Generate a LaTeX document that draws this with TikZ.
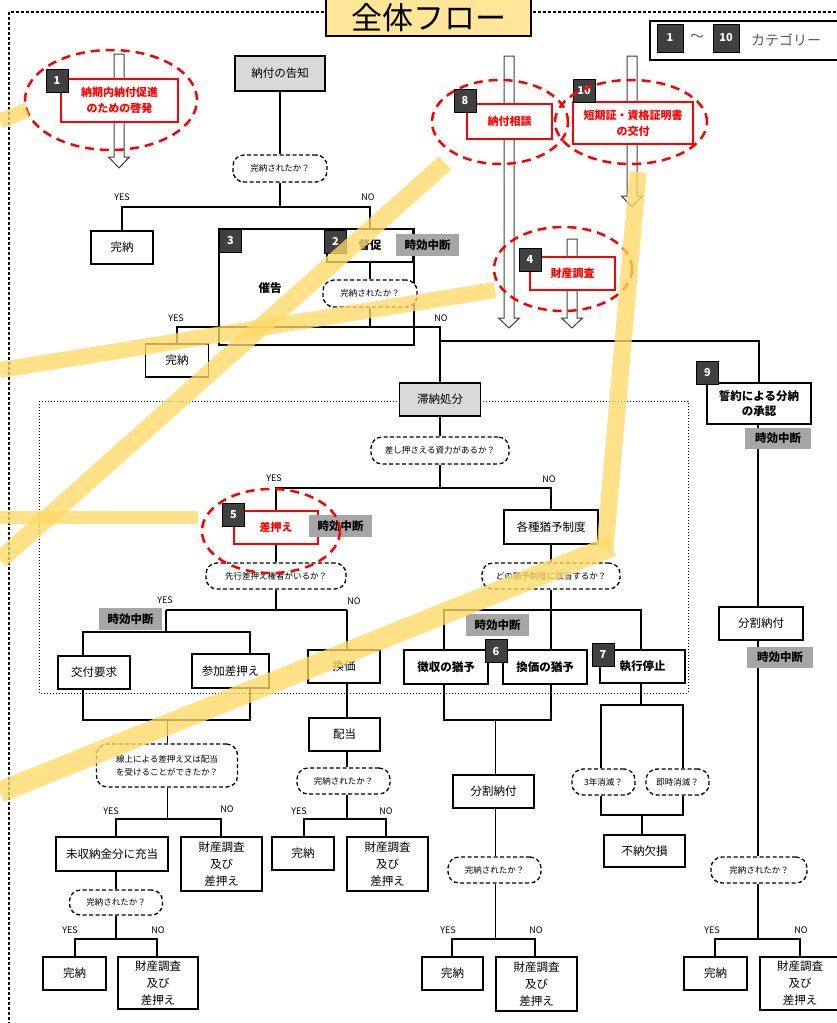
\documentclass[tikz,border=0pt]{standalone}
\usepackage{fontspec}
\setmainfont{Noto Sans CJK JP}
\definecolor{bgray}{HTML}{404040}
\definecolor{jgray}{HTML}{A6A6A6}
\definecolor{lgray}{HTML}{D9D9D9}
\definecolor{hly}{HTML}{FFD966}
\definecolor{titley}{HTML}{FFE699}
\definecolor{leggray}{HTML}{595959}
\newcommand\hollowarrow[4]{\draw[harrowst] (#1-5,#2) -- (#1+5,#2) -- (#1+5,#3) -- (#1+10.5,#3) -- (#1,#4) -- (#1-10.5,#3) -- (#1-5,#3) -- cycle;}
\begin{document}
\begin{tikzpicture}[x=1pt,y=-1pt,
  box/.style={draw, line width=1.5pt, fill=white, inner sep=0pt, align=center, font=\fontsize{11.5}{17}\selectfont},
  bbox/.style={box, font=\bfseries\fontsize{11.5}{15}\selectfont},
  gbox/.style={box, fill=lgray},
  qbox/.style={draw, dash pattern=on 4pt off 2.5pt, line width=1.3pt, rounded corners=11pt, fill=white, inner sep=0pt, align=center, font=\fontsize{8.5}{12.5}\selectfont},
  jikou/.style={fill=jgray, inner sep=0pt, minimum width=63pt, minimum height=22pt, font=\bfseries\fontsize{11.5}{14}\selectfont},
  badge/.style={fill=bgray, draw=black, line width=0.8pt, text=white, minimum width=22pt, minimum height=23pt, inner sep=0pt, font=\bfseries\fontsize{11}{13}\selectfont},
  rbox/.style={draw=red, line width=1.5pt, fill=white, text=red, inner sep=0pt, align=center, font=\bfseries\fontsize{11}{16}\selectfont},
  yn/.style={inner sep=0pt, font=\fontsize{9}{10}\selectfont},
  conn/.style={line width=1.6pt},
  thinconn/.style={line width=1pt},
  harrowst/.style={draw=bgray, line width=1pt, fill=white},
  rell/.style={draw=red, line width=2.5pt, dash pattern=on 9pt off 6pt},
  hl/.style={draw=hly, opacity=0.78}
]
\useasboundingbox (0,0) rectangle (837,1023);
\clip (0,0) rectangle (837,1023);

% frames
\draw[line width=1.2pt, dash pattern=on 3pt off 2pt] (9,1030) -- (9,12) -- (330,12);
\draw[line width=1.2pt, dash pattern=on 3pt off 2pt] (528,12) -- (840,12);
\draw[line width=1pt, dotted] (39,401) rectangle (688,693);

\node[box, fill=titley, minimum width=205pt, minimum height=46pt] (title) at (428.5,13) {};
\node[inner sep=0pt, font=\fontsize{31}{33}\selectfont] (titletext) at (428.5,17.5) {全体フロー};
\node[draw, line width=1.2pt, minimum width=200pt, minimum height=39pt, inner sep=0pt] (legend) at (750,40.5) {};
\node[badge, minimum width=26pt, minimum height=28pt] (lb1) at (670,38) {1};
\node[inner sep=0pt, text=leggray, font=\fontsize{14}{16}\selectfont] (tilde) at (697,38) {〜};
\node[badge, minimum width=26pt, minimum height=28pt] (lb10) at (726,38) {10};
\node[inner sep=0pt, text=leggray, font=\fontsize{14}{16}\selectfont] (legtext) at (786,40) {カテゴリー};

% main flow nodes
\node[gbox, minimum width=90pt, minimum height=35pt] (n0) at (280,73.5) {納付の告知};
\node[qbox, minimum width=94pt, minimum height=27pt] (q0) at (280,168.5) {完納されたか？};
\node[box, minimum width=62pt, minimum height=33pt] (kan1) at (122,247.5) {完納};
\node[box, minimum width=195pt, minimum height=116pt] (n3) at (316.5,287) {};
\node[inner sep=0pt, font=\bfseries\fontsize{11.5}{14}\selectfont] (saikoku) at (270,288) {催告};
\node[bbox, minimum width=86pt, minimum height=33pt] (tok) at (370,245.5) {督促};
\node[qbox, minimum width=94pt, minimum height=27pt] (q1) at (370,293.5) {完納されたか？};
\node[box, minimum width=63pt, minimum height=33pt] (kan2) at (177,360.5) {完納};
\node[gbox, minimum width=81pt, minimum height=33pt] (taino) at (440,399.5) {滞納処分};
\node[qbox, minimum width=138pt, minimum height=27pt] (q2) at (440,450.5) {差し押さえる資力があるか？};
\node[rbox, minimum width=84pt, minimum height=33pt] (sashi) at (276,527.5) {差押え};
\node[qbox, minimum width=140pt, minimum height=26pt] (q3) at (276,576) {先行差押え権者がいるか？};
\node[box, minimum width=72pt, minimum height=33pt] (kofu) at (94,672.5) {交付要求};
\node[box, minimum width=77pt, minimum height=34pt] (sanka) at (230.5,671) {参加差押え};
\node[box, minimum width=72pt, minimum height=33pt] (kanka) at (344,666.5) {換価};
\node[qbox, minimum width=141pt, minimum height=43pt] (q4) at (167,765.5) {線上による差押え又は配当\\を受けることができたか？};
\node[box, minimum width=112pt, minimum height=34pt] (mishu) at (112,854) {未収納金分に充当};
\node[box, minimum width=81pt, minimum height=54pt] (zai1) at (221.5,864) {財産調査\\及び\\差押え};
\node[qbox, minimum width=93pt, minimum height=25pt] (q5) at (116,902.5) {完納されたか？};
\node[box, minimum width=63pt, minimum height=33pt] (kan3) at (74.5,973.5) {完納};
\node[box, minimum width=80pt, minimum height=52pt] (zai2) at (158,983) {財産調査\\及び\\差押え};
\node[box, minimum width=71pt, minimum height=33pt] (haito) at (344.5,734.5) {配当};
\node[qbox, minimum width=93pt, minimum height=26pt] (q6) at (343.5,781) {完納されたか？};
\node[box, minimum width=62pt, minimum height=33pt] (kan4) at (303,853.5) {完納};
\node[box, minimum width=81pt, minimum height=54pt] (zai3) at (387.5,864) {財産調査\\及び\\差押え};
\node[box, minimum width=94pt, minimum height=34pt] (kakushu) at (551,527) {各種猶予制度};
\node[qbox, minimum width=138pt, minimum height=26pt] (q7) at (551,576) {どの猶予制度に該当するか？};
\node[bbox, minimum width=84pt, minimum height=34pt] (choshu) at (446,667) {徴収の猶予};
\node[bbox, minimum width=84pt, minimum height=34pt] (kankayuyo) at (545,667) {換価の猶予};
\node[bbox, minimum width=85pt, minimum height=33pt] (shikko) at (642.5,666.5) {執行停止};
\node[box, minimum width=81pt, minimum height=33pt] (bunkatsu1) at (493.5,791.5) {分割納付};
\node[qbox, minimum width=93pt, minimum height=26pt] (q8) at (494.5,870) {完納されたか？};
\node[box, minimum width=61pt, minimum height=33pt] (kan5) at (452.5,973.5) {完納};
\node[box, minimum width=81pt, minimum height=54pt] (zai4) at (536.5,984) {財産調査\\及び\\差押え};
\node[qbox, minimum width=63pt, minimum height=26pt] (q3y) at (603.5,782) {3年消滅？};
\node[qbox, minimum width=63pt, minimum height=26pt] (qsoku) at (677.5,782) {即時消滅？};
\node[box, minimum width=81pt, minimum height=32pt] (funo) at (644.5,851) {不納欠損};
\node[bbox, minimum width=104pt, minimum height=41pt] (seiyaku) at (759,403.5) {誓約による分納\\の承認};
\node[box, minimum width=84pt, minimum height=33pt] (bunkatsu2) at (761,623.5) {分割納付};
\node[qbox, minimum width=96pt, minimum height=26pt] (q9) at (759,870) {完納されたか？};
\node[box, minimum width=63pt, minimum height=33pt] (kan6) at (715.5,973.5) {完納};
\node[box, minimum width=80pt, minimum height=53pt] (zai5) at (800,983.5) {財産調査\\及び\\差押え};

% connectors
\coordinate (j0) at (280,207);
\draw[conn] (n0) -- (q0);
\draw[conn] (q0) -- (j0);
\draw[conn] (kan1.north) |- (j0) -| (tok.north);
\draw[conn] (tok) -- (q1);
\coordinate (j1) at (370,327);
\draw[conn] (q1) -- (j1);
\draw[conn] (kan2.north) |- (j1) -| (taino.north);
\coordinate (j2) at (440,341);
\draw[conn] (j2) -| (seiyaku.north);
\draw[conn] (taino) -- (q2);
\coordinate (j3) at (440,488);
\draw[conn] (q2) -- (j3);
\draw[conn] (sashi.north) |- (j3) -| (kakushu.north);
\draw[conn] (sashi) -- (q3);
\coordinate (j4) at (276,610);
\draw[conn] (q3) -- (j4);
\coordinate (b1) at (166,610);
\coordinate (b2) at (347,610);
\draw[conn] (b1) -- (b2);
\draw[conn] (b2) -- (b2 |- kanka.north);
\coordinate (b3) at (166,632);
\draw[conn] (b1) -- (b3);
\coordinate (b4) at (83,632);
\coordinate (b5) at (250,632);
\draw[conn] (b4 |- kofu.north) -- (b4) -- (b5) -- (b5 |- sanka.north);
\coordinate (b6) at (83,720);
\coordinate (b7) at (250,720);
\draw[conn] (b4 |- kofu.south) -- (b6) -- (b7) -- (b7 |- sanka.south);
\coordinate (b8) at (167,720);
\draw[thinconn] (b8) -- (b8 |- q4.north);
\coordinate (b9) at (167,819);
\draw[thinconn] (q4) -- (b9);
\coordinate (b10) at (116,819);
\coordinate (b11) at (221,819);
\draw[conn] (b10 |- mishu.north) -- (b10) -- (b11) -- (b11 |- zai1.north);
\draw[conn] (b10 |- mishu.south) -- (b10 |- q5.north);
\coordinate (b12) at (116,939);
\draw[conn] (q5) -- (b12);
\coordinate (b13) at (75,939);
\coordinate (b14) at (157,939);
\draw[conn] (b13 |- kan3.north) -- (b13) -- (b14) -- (b14 |- zai2.north);
\draw[conn] (b2 |- kanka.south) -- (b2 |- haito.north);
\draw[conn] (b2 |- haito.south) -- (b2 |- q6.north);
\coordinate (c1) at (347,819);
\draw[conn] (b2 |- q6.south) -- (c1);
\coordinate (c2) at (304,819);
\coordinate (c3) at (386,819);
\draw[conn] (c2 |- kan4.north) -- (c2) -- (c3) -- (c3 |- zai3.north);
\draw[conn] (kakushu) -- (q7);
\coordinate (d0) at (551,610);
\draw[conn] (q7) -- (d0);
\coordinate (d1) at (444,610);
\coordinate (d2) at (641,610);
\draw[conn] (d1 |- choshu.north) -- (d1) -- (d2) -- (d2 |- shikko.north);
\draw[conn] (d0) -- (d0 |- kankayuyo.north);
\coordinate (d3) at (444,720);
\coordinate (d4) at (551,720);
\draw[conn] (d1 |- choshu.south) -- (d3) -- (d4) -- (d0 |- kankayuyo.south);
\coordinate (d5) at (495,720);
\draw[thinconn] (d5) -- (d5 |- bunkatsu1.north);
\draw[thinconn] (d5 |- bunkatsu1.south) -- (d5 |- q8.north);
\coordinate (d6) at (495,939);
\draw[thinconn] (d5 |- q8.south) -- (d6);
\coordinate (d7) at (452,939);
\coordinate (d8) at (535,939);
\draw[conn] (d7 |- kan5.north) -- (d7) -- (d8) -- (d8 |- zai4.north);
\coordinate (e0) at (641,705);
\draw[conn] (d2 |- shikko.south) -- (e0);
\coordinate (e1) at (601,705);
\coordinate (e2) at (683,705);
\draw[conn] (e1 |- q3y.north) -- (e1) -- (e2) -- (e2 |- qsoku.north);
\coordinate (e3) at (601,815);
\coordinate (e4) at (683,815);
\coordinate (e5) at (642,815);
\draw[conn] (e1 |- q3y.south) -- (e3) -- (e4) -- (e2 |- qsoku.south);
\draw[conn] (e5) -- (e5 |- funo.north);
\coordinate (f1) at (758,939);
\draw[conn] (f1 |- seiyaku.south) -- (f1 |- bunkatsu2.north);
\draw[conn] (f1 |- bunkatsu2.south) -- (f1 |- q9.north);
\draw[conn] (f1 |- q9.south) -- (f1);
\coordinate (f2) at (715,939);
\coordinate (f3) at (800,939);
\draw[conn] (f2 |- kan6.north) -- (f2) -- (f3) -- (f3 |- zai5.north);

% YES / NO
\node[yn] (y1) at (122,197) {YES}; \node[yn] (no1) at (368,197) {NO};
\node[yn] (y2) at (176,318) {YES}; \node[yn] (no2) at (441,318) {NO};
\node[yn] (y3) at (274,478) {YES}; \node[yn] (no3) at (549,479) {NO};
\node[yn] (y4) at (165,600) {YES}; \node[yn] (no4) at (354,601) {NO};
\node[yn] (y5) at (111,811) {YES}; \node[yn] (no5) at (227,809) {NO};
\node[yn] (y6) at (70,930) {YES}; \node[yn] (no6) at (158,930) {NO};
\node[yn] (y7) at (299,811) {YES}; \node[yn] (no7) at (386,811) {NO};
\node[yn] (y8) at (448,930) {YES}; \node[yn] (no8) at (536,930) {NO};
\node[yn] (y9) at (712,930) {YES}; \node[yn] (no9) at (801,930) {NO};

% 時効中断 labels
\node[jikou] (t1) at (427.5,245) {時効中断};
\node[jikou] (t2) at (340.5,526) {時効中断};
\node[jikou] (t3) at (130.5,619) {時効中断};
\node[jikou] (t4) at (497.5,625) {時効中断};
\node[jikou, minimum width=66pt, minimum height=21pt] (t5) at (778,438.5) {時効中断};
\node[jikou, minimum width=66pt, minimum height=21pt] (t6) at (780,657.5) {時効中断};

% hollow arrows
\hollowarrow{119}{54}{157}{168}
\hollowarrow{509}{56}{318}{328}
\hollowarrow{632}{56}{196}{207}
\hollowarrow{572}{239}{318}{328}

% red boxes
\node[rbox, minimum width=117pt, minimum height=43pt] (r1) at (119.5,100.5) {納期内納付促進\\のための啓発};
\node[rbox, minimum width=85pt, minimum height=35pt] (r8) at (509.5,121.5) {納付相談};
\node[rbox, minimum width=120pt, minimum height=42pt] (r10) at (633,123) {短期証・資格証明書\\の交付};
\node[rbox, minimum width=85pt, minimum height=33pt] (r4) at (572.5,273.5) {財産調査};

% badges
\node[badge] (bd1) at (57,80.5) {1};
\node[badge] (bd2) at (335.5,241.5) {2};
\node[badge] (bd3) at (230.5,240.5) {3};
\node[badge] (bd4) at (530,259.5) {4};
\node[badge] (bd5) at (233.5,514.5) {5};
\node[badge] (bd6) at (496,651) {6};
\node[badge] (bd7) at (603,654.5) {7};
\node[badge] (bd8) at (465,101) {8};
\node[badge] (bd9) at (707.5,373) {9};
\node[badge] (bd10) at (584,91) {10};

% red dashed ellipses
\draw[rell] (111,100) ellipse [x radius=86pt, y radius=50pt];
\draw[rell] (500,122) ellipse [x radius=68pt, y radius=42pt];
\draw[rell] (631,122) ellipse [x radius=76pt, y radius=42pt];
\draw[rell] (563,269) ellipse [x radius=69pt, y radius=42pt];
\draw[rell] (271,531) ellipse [x radius=69pt, y radius=42pt];

% yellow highlighter strokes
\draw[hl, line width=15pt] (0,121) -- (27,110);
\draw[hl, line width=18pt] (445,163) -- (0,560);
\draw[hl, line width=16pt] (0,370) -- (495,290);
\draw[hl, line width=13pt] (0,517) -- (198,517);
\draw[hl, line width=17pt] (638,172) -- (605,548);
\draw[hl, line width=21pt] (612,546) -- (0,792);
\end{tikzpicture}
\end{document}
